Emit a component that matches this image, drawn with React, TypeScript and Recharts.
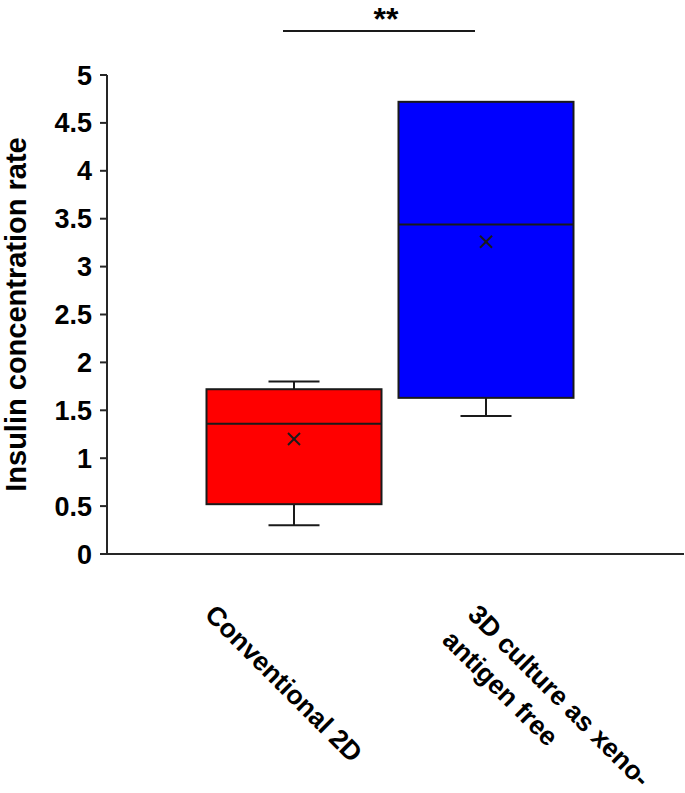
import { Bar, ComposedChart, XAxis, YAxis } from "recharts"

const categories = ["Conventional 2D", "3D culture as xeno-antigen free"]
const minValues = [0.3, 1.44]
const q1Values = [0.52, 1.63]
const medianValues = [1.36, 3.44]
const q3Values = [1.72, 4.72]
const maxValues = [1.8, 4.72]
const meanValues = [1.2, 3.26]
const boxColors = ["#ff0000", "#0000ff"]
const yTicks = [0, 0.5, 1, 1.5, 2, 2.5, 3, 3.5, 4, 4.5, 5]

const data = categories.map((name, i) => ({
  name,
  min: minValues[i],
  q1: q1Values[i],
  median: medianValues[i],
  q3: q3Values[i],
  max: maxValues[i],
  mean: meanValues[i],
  color: boxColors[i],
}))

const FONT = "'Liberation Sans', Arial, sans-serif"

// horizontal shift of each rotated category label's start point
const labelShift = [-90, -19]

function BoxShape(props: any) {
  const { x, y, width, height, payload } = props
  const top = Math.min(y, y + height)
  const bottom = Math.max(y, y + height)
  const k = (bottom - top) / (payload.max - payload.min)
  const yOf = (v: number) => bottom - (v - payload.min) * k
  const cx = x + width / 2
  const cap = 25.5
  const yq1 = yOf(payload.q1)
  const yq3 = yOf(payload.q3)
  const ymed = yOf(payload.median)
  const ymean = yOf(payload.mean)
  const ymin = yOf(payload.min)
  const ymax = yOf(payload.max)
  const m = 6
  return (
    <g>
      {payload.max > payload.q3 && (
        <>
          <line x1={cx} x2={cx} y1={ymax} y2={yq3} stroke="#1a1a1a" strokeWidth={2} />
          <line x1={cx - cap} x2={cx + cap} y1={ymax} y2={ymax} stroke="#1a1a1a" strokeWidth={2} />
        </>
      )}
      {payload.min < payload.q1 && (
        <>
          <line x1={cx} x2={cx} y1={yq1} y2={ymin} stroke="#1a1a1a" strokeWidth={2} />
          <line x1={cx - cap} x2={cx + cap} y1={ymin} y2={ymin} stroke="#1a1a1a" strokeWidth={2} />
        </>
      )}
      <rect x={x} y={yq3} width={width} height={yq1 - yq3} fill={payload.color} stroke="#1a1a1a" strokeWidth={2} />
      <line x1={x} x2={x + width} y1={ymed} y2={ymed} stroke="#1a1a1a" strokeWidth={2} />
      <line x1={cx - m} x2={cx + m} y1={ymean - m} y2={ymean + m} stroke="#1a1a1a" strokeWidth={2} />
      <line x1={cx - m} x2={cx + m} y1={ymean + m} y2={ymean - m} stroke="#1a1a1a" strokeWidth={2} />
    </g>
  )
}

function CategoryTick(props: any) {
  const { x, y, payload, index } = props
  const text: string = payload.value
  const cut = text.indexOf("-")
  const lines = cut >= 0 ? [text.slice(0, cut + 1), text.slice(cut + 1)] : [text]
  const sx = x + labelShift[index]
  const sy = y + 54
  return (
    <g transform={`rotate(45, ${sx}, ${sy})`}>
      <text x={sx} y={sy} fontFamily={FONT} fontWeight="bold" fontSize={26.5} fill="#000">
        {lines.map((l, i) => (
          <tspan key={i} x={sx} dy={i === 0 ? 0 : 36}>
            {l}
          </tspan>
        ))}
      </text>
    </g>
  )
}

function YLabel(props: any) {
  const { viewBox } = props
  const cx = viewBox.x + 16
  const cy = viewBox.y + viewBox.height / 2
  return (
    <text
      x={cx}
      y={cy}
      transform={`rotate(-90, ${cx}, ${cy})`}
      textAnchor="middle"
      dominantBaseline="central"
      fontFamily={FONT}
      fontWeight="bold"
      fontSize={29}
      fill="#000"
    >
      Insulin concentration rate
    </text>
  )
}

export default function App() {
  return (
    <div style={{ position: "absolute", left: 0, top: 0, width: 685, height: 793, background: "#fff" }}>
      <ComposedChart width={685} height={793} data={data} margin={{ top: 75, right: 1, bottom: 0, left: 0 }}>
        <XAxis
          dataKey="name"
          height={239}
          padding={{ left: 90.5, right: 102.5 }}
          axisLine={{ stroke: "#262626", strokeWidth: 2 }}
          tickLine={false}
          tick={<CategoryTick />}
          interval={0}
        />
        <YAxis
          type="number"
          domain={[0, 5]}
          ticks={yTicks}
          width={107}
          axisLine={{ stroke: "#262626", strokeWidth: 2 }}
          tickLine={{ stroke: "#262626", strokeWidth: 2 }}
          tickSize={7}
          tickMargin={8}
          tick={{ fontFamily: FONT, fontWeight: "bold", fontSize: 27, fill: "#000" }}
          label={<YLabel />}
        />
        <Bar
          dataKey={(d: any) => [d.min, d.max]}
          barSize={175}
          shape={<BoxShape />}
          isAnimationActive={false}
        />
      </ComposedChart>
      <svg width={685} height={60} style={{ position: "absolute", left: 0, top: 0 }}>
        <line x1={283} x2={475} y1={31} y2={31} stroke="#1a1a1a" strokeWidth={2} />
        <text x={386} y={30} textAnchor="middle" fontFamily={FONT} fontWeight="bold" fontSize={32} fill="#000">
          **
        </text>
      </svg>
    </div>
  )
}
